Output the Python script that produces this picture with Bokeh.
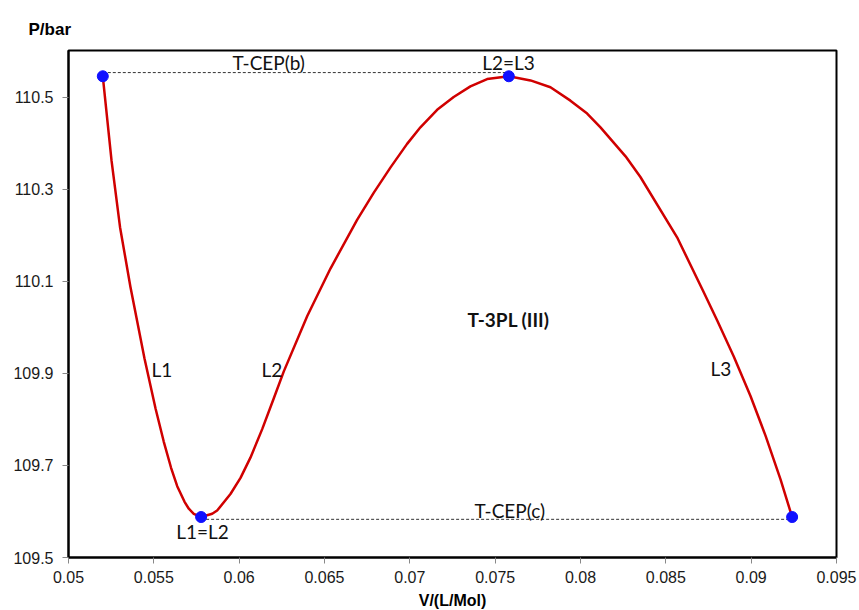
from bokeh.plotting import figure
from bokeh.models import ColumnDataSource, FixedTicker, Range1d
from bokeh.core.properties import value
from bokeh.embed import file_html
from bokeh.resources import INLINE

# Isotherm curve P(V)
V = [0.05201, 0.05252, 0.05302, 0.05363, 0.05445, 0.05510, 0.05558, 0.05601,
     0.05637, 0.05680, 0.05705, 0.05734, 0.05777, 0.05842, 0.05871, 0.05949,
     0.06008, 0.06066, 0.06135, 0.06203, 0.06261, 0.06399, 0.06535, 0.06691,
     0.06789, 0.06887, 0.06984, 0.07062, 0.07160, 0.07257, 0.07355, 0.07453,
     0.07580, 0.07707, 0.07824, 0.07941, 0.08039, 0.08117, 0.08264, 0.08351,
     0.08566, 0.08720, 0.08801, 0.08898, 0.08996, 0.09084, 0.09172, 0.09240]
P = [110.546, 110.363, 110.218, 110.088, 109.933, 109.824, 109.752, 109.695,
     109.655, 109.621, 109.606, 109.595, 109.588, 109.595, 109.602, 109.638,
     109.673, 109.717, 109.779, 109.846, 109.904, 110.025, 110.128, 110.234,
     110.293, 110.348, 110.399, 110.435, 110.473, 110.501, 110.524, 110.540,
     110.546, 110.537, 110.522, 110.493, 110.465, 110.435, 110.372, 110.327,
     110.196, 110.078, 110.015, 109.937, 109.851, 109.765, 109.670, 109.588]

# Critical (end) points
crit_V = [0.05201, 0.05777, 0.07580, 0.09240]
crit_P = [110.546, 109.588, 110.546, 109.588]

# Dashed tie lines T-CEP(b) and T-CEP(c)
tie_b_V = [0.05201, 0.07580]
tie_b_P = [110.554, 110.554]
tie_c_V = [0.05777, 0.09240]
tie_c_P = [109.583, 109.583]

# Annotations
ann_text = ["T-CEP(b)", "L2=L3", "L1", "L2", "L3", "L1=L2", "T-CEP(c)"]
ann_V = [0.05961, 0.07424, 0.05486, 0.06131, 0.08762, 0.05631, 0.07379]
ann_P = [110.575, 110.575, 109.9076, 109.909, 109.911, 109.557, 109.602]
bold_text = ["T-3PL (III)"]
bold_V = [0.07338]
bold_P = [110.0174]

x_ticks = [0.05, 0.055, 0.06, 0.065, 0.07, 0.075, 0.08, 0.085, 0.09, 0.095]
x_tick_labels = ["0.05", "0.055", "0.06", "0.065", "0.07", "0.075", "0.08", "0.085", "0.09", "0.095"]
y_ticks = [109.5, 109.7, 109.9, 110.1, 110.3, 110.5]
y_tick_labels = ["109.5", "109.7", "109.9", "110.1", "110.3", "110.5"]

p = figure(width=859, height=610, output_backend="svg", toolbar_location=None,
           x_range=Range1d(0.05, 0.095), y_range=Range1d(109.5, 110.602),
           min_border_left=68, min_border_right=23, min_border_top=50, min_border_bottom=53,
           frame_width=768, frame_height=507)

p.grid.visible = False
p.background_fill_color = "white"
p.border_fill_color = "white"
p.outline_line_color = "black"
p.outline_line_width = 2

# title as y-axis label at top-left
p.title.text = "P/bar"
p.title.text_font = "Liberation Sans"
p.title.text_font_size = "17px"
p.title.text_font_style = "bold"
p.title.text_color = "black"
p.title.align = "left"
p.title.offset = -40
p.title.standoff = 23

for ax in (p.xaxis[0], p.yaxis[0]):
    ax.axis_line_color = "black"
    ax.axis_line_width = 2
    ax.major_tick_line_color = "#888888"
    ax.major_tick_in = 0
    ax.major_tick_out = 6
    ax.minor_tick_line_color = None
    ax.major_label_text_font = "Liberation Sans"
    ax.major_label_text_font_size = "16px"
    ax.major_label_text_color = "#1a1a1a"

p.xaxis.ticker = FixedTicker(ticks=x_ticks)
p.xaxis.major_label_overrides = dict(zip(x_ticks, x_tick_labels))
p.xaxis.major_label_standoff = 7
p.xaxis.axis_label = "V/(L/Mol)"
p.xaxis.axis_label_text_font = "Liberation Sans"
p.xaxis.axis_label_text_font_size = "16px"
p.xaxis.axis_label_text_font_style = "bold"
p.xaxis.axis_label_text_color = "black"
p.xaxis.axis_label_standoff = 6

p.yaxis.ticker = FixedTicker(ticks=y_ticks)
p.yaxis.major_label_overrides = dict(zip(y_ticks, y_tick_labels))
p.yaxis.major_label_standoff = 9

p.line(tie_b_V, tie_b_P, line_color="#333333", line_width=1, line_dash="3 2")
p.line(tie_c_V, tie_c_P, line_color="#333333", line_width=1, line_dash="3 2")

p.line(V, P, line_color="#d00000", line_width=2.5, line_join="round")
p.scatter(crit_V, crit_P, size=11, fill_color="#1010ff", line_color="#1010ff")

ann = ColumnDataSource(dict(x=ann_V, y=ann_P, t=ann_text))
p.text(x="x", y="y", text="t", source=ann, text_font=value("Lato"),
       text_font_size="19px", text_color="#111111", text_align="left",
       text_baseline="middle")
bold = ColumnDataSource(dict(x=bold_V, y=bold_P, t=bold_text))
p.text(x="x", y="y", text="t", source=bold, text_font=value("Lato"),
       text_font_size="19px", text_font_style="bold", text_color="#111111",
       text_align="left", text_baseline="middle")

open("out.html", "w").write(file_html(p, INLINE))
